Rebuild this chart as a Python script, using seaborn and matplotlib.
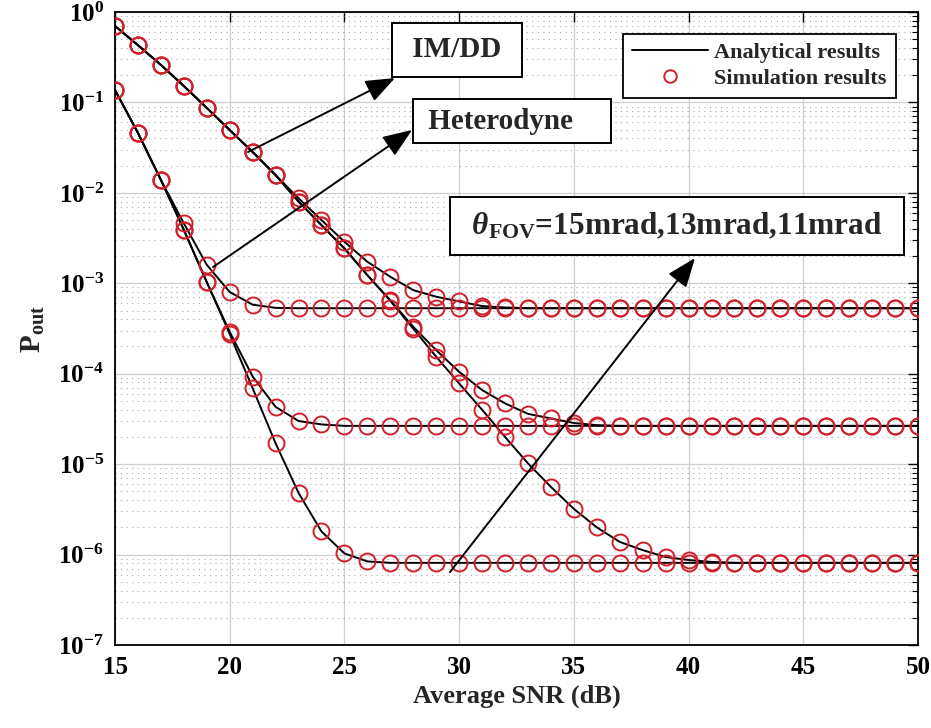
import numpy as np
import pandas as pd
import matplotlib
matplotlib.use("Agg")
import matplotlib.pyplot as plt
from matplotlib.lines import Line2D
from matplotlib.ticker import LogLocator, FixedLocator, NullFormatter
import seaborn as sns

# ---------------- data ----------------
snr = list(range(15, 51))

het_hi = [0.137, 0.046, 0.0139, 4.6e-3, 1.6e-3, 8.0e-4, 5.8e-4, 5.35e-4] + [5.3e-4] * 28
het_mid = [0.137, 0.046, 0.0139, 3.9e-3, 1.03e-3, 2.9e-4, 9.3e-5, 4.3e-5, 3.0e-5, 2.75e-5] + [2.65e-5] * 26
het_lo = [0.137, 0.046, 0.0139, 3.9e-3, 1.03e-3, 2.75e-4, 6.9e-5, 1.7e-5, 4.8e-6, 1.8e-6,
          1.03e-6, 8.4e-7] + [8.1e-7] * 24
imdd_hi = [0.70, 0.43, 0.26, 0.152, 0.087, 0.0495, 0.0283, 0.0157, 8.7e-3, 5.0e-3, 2.88e-3,
           1.73e-3, 1.18e-3, 8.4e-4, 7.1e-4, 6.3e-4, 5.6e-4, 5.4e-4] + [5.3e-4] * 18
imdd_mid = [0.70, 0.43, 0.26, 0.152, 0.087, 0.0495, 0.0283, 0.0157, 8.0e-3, 4.4e-3, 2.43e-3,
            1.23e-3, 6.5e-4, 3.3e-4, 1.82e-4, 1.05e-4, 6.6e-5, 4.7e-5, 3.6e-5, 3.2e-5, 2.85e-5,
            2.7e-5] + [2.65e-5] * 14
imdd_lo = [0.70, 0.43, 0.26, 0.152, 0.087, 0.0495, 0.0283, 0.0157, 8.0e-3, 4.4e-3, 2.43e-3,
           1.23e-3, 6.4e-4, 3.15e-4, 1.54e-4, 7.8e-5, 4.0e-5, 2.0e-5, 1.02e-5, 5.6e-6, 3.2e-6,
           2.0e-6, 1.38e-6, 1.12e-6, 9.4e-7, 8.7e-7, 8.3e-7] + [8.1e-7] * 9

curves = {
    "het_hi": het_hi, "het_mid": het_mid, "het_lo": het_lo,
    "imdd_hi": imdd_hi, "imdd_mid": imdd_mid, "imdd_lo": imdd_lo,
}
x_ticks = [15, 20, 25, 30, 35, 40, 45, 50]
legend_labels = ["Analytical results", "Simulation results"]

df = pd.concat(
    [pd.DataFrame({"snr": snr, "pout": v, "curve": k}) for k, v in curves.items()],
    ignore_index=True,
)

# ---------------- style ----------------
sns.set_style("white")
plt.rcParams["font.family"] = ["Liberation Serif", "DejaVu Serif"]
plt.rcParams["font.weight"] = "bold"
plt.rcParams["mathtext.fontset"] = "custom"
plt.rcParams["mathtext.rm"] = "Liberation Serif:bold"
plt.rcParams["mathtext.bf"] = "Liberation Serif:bold"
plt.rcParams["mathtext.it"] = "Liberation Serif:italic:bold"
plt.rcParams["mathtext.default"] = "bf"

fig = plt.figure(figsize=(9.31, 7.28), dpi=100)
ax = fig.add_axes([115 / 931, 1 - 645 / 728, (918 - 115) / 931, (645 - 12) / 728])

red = "#d0202a"
sns.lineplot(data=df, x="snr", y="pout", units="curve", estimator=None, sort=False,
             color="black", lw=1.4, ax=ax, legend=False, zorder=3)
sns.lineplot(data=df, x="snr", y="pout", units="curve", estimator=None, sort=False,
             color=red, ls="none", marker="o", markersize=11.5, markerfacecolor="none",
             markeredgecolor=red, markeredgewidth=1.4, ax=ax, legend=False, zorder=4)

ax.set_yscale("log")
ax.set_xlim(15, 50)
ax.set_ylim(1e-7, 1)
ax.xaxis.set_major_locator(FixedLocator(x_ticks))
ax.yaxis.set_major_locator(LogLocator(base=10, numticks=10))
ax.yaxis.set_minor_locator(LogLocator(base=10, subs=np.arange(2, 10), numticks=20))
ax.yaxis.set_minor_formatter(NullFormatter())

ax.grid(True, which="major", axis="both", color="#cfcfcf", lw=0.9, ls="-")
ax.grid(True, which="minor", axis="y", color="#a8a8a8", lw=0.8, ls=(0, (1, 4)))
ax.set_axisbelow(True)

ax.tick_params(which="both", direction="in", top=True, right=True, colors="black")
ax.tick_params(which="major", length=7, width=1.0, labelsize=18, pad=8)
ax.tick_params(which="minor", length=4, width=0.8)
for sp in ax.spines.values():
    sp.set_color("black")
    sp.set_linewidth(1.3)

ax.set_xlabel("Average SNR (dB)", fontsize=19, fontweight="bold", labelpad=4)
ax.set_ylabel(r"$\mathbf{P_{out}}$", fontsize=21, labelpad=8)

# legend
handles = [
    Line2D([0], [0], color="black", lw=1.4),
    Line2D([0], [0], color=red, ls="none", marker="o", markersize=9,
           markerfacecolor="none", markeredgecolor=red, markeredgewidth=1.4),
]
leg = ax.legend(handles, legend_labels, loc="upper right", bbox_to_anchor=(0.972, 0.966),
                borderaxespad=0, fontsize=16, handlelength=3.4, fancybox=False,
                framealpha=1, edgecolor="black", borderpad=0.4, labelspacing=0.25,
                handletextpad=0.3)
leg.get_frame().set_linewidth(1.3)

# annotations
arrow_kw = dict(arrowstyle="-|>,head_length=0.9,head_width=0.35", color="black", lw=1.4,
                shrinkA=0, shrinkB=0, mutation_scale=20)

ax.annotate("", xy=(27.2, 0.186), xytext=(20.8, 0.0283), arrowprops=arrow_kw, zorder=6)
ax.annotate("", xy=(27.95, 0.0496), xytext=(19.27, 1.51e-3), arrowprops=arrow_kw, zorder=6)
ax.annotate("", xy=(40.28, 1.9e-3), xytext=(29.6, 6.4e-7), arrowprops=arrow_kw, zorder=6)

ax.text(29.9, 0.38, " IM/DD ", fontsize=21, fontweight="bold", ha="center", va="center",
        bbox=dict(boxstyle="square,pad=0.45", fc="white", ec="black", lw=1.4), zorder=7)
ax.text(32.3, 0.062, " Heterodyne    ", fontsize=21, fontweight="bold", ha="center",
        va="center", bbox=dict(boxstyle="square,pad=0.3", fc="white", ec="black", lw=1.4),
        zorder=7)
ax.text(39.5, 4.3e-3, r" $\mathit{\theta}_{\mathbf{FOV}}$=15mrad,13mrad,11mrad  ",
        fontsize=22.5, fontweight="bold", ha="center", va="center",
        bbox=dict(boxstyle="square,pad=0.45", fc="white", ec="black", lw=1.4), zorder=7)

fig.savefig("out.png", dpi=100)
